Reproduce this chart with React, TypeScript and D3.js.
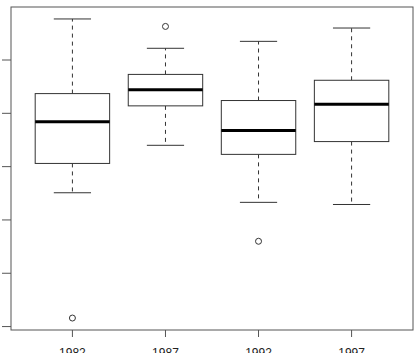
import React from 'react';
import * as d3 from 'd3';

const years = ['1982', '1987', '1992', '1997'];
const lowerWhisker = [2.51, 3.4, 2.33, 2.29];
const q1 = [3.06, 4.14, 3.23, 3.47];
const median = [3.84, 4.44, 3.68, 4.17];
const q3 = [4.37, 4.73, 4.24, 4.62];
const upperWhisker = [5.77, 5.22, 5.35, 5.6];
const outliers = [[0.16], [5.63], [1.6], []];
const yTicks = [0, 1, 2, 3, 4, 5];

const width = 418;
const height = 353;
const plot = { left: 11, top: 7, right: 413, bottom: 330 };

export default function App() {
  // R style: 4% padding around the data range
  const lo = d3.min(outliers.flat().concat(lowerWhisker)) as number;
  const hi = d3.max(outliers.flat().concat(upperWhisker)) as number;
  const pad = (hi - lo) * 0.04;
  const y = d3.scaleLinear().domain([lo - pad, hi + pad]).range([plot.bottom, plot.top]);
  const x = d3.scaleLinear().domain([0.34, 4.66]).range([plot.left, plot.right]);
  const boxW = x(0.8) - x(0);
  const capW = boxW / 2;
  const stroke = '#333';

  return (
    <svg
      width={width}
      height={height}
      style={{ position: 'absolute', left: 0, top: 0, background: '#fff' }}
      fontFamily="'Liberation Sans', Arial, sans-serif"
    >
      <rect
        x={plot.left}
        y={plot.top}
        width={plot.right - plot.left}
        height={plot.bottom - plot.top}
        fill="none"
        stroke="#555"
      />
      {yTicks.map(t => (
        <line key={t} x1={2} x2={plot.left} y1={y(t)} y2={y(t)} stroke="#555" />
      ))}
      {years.map((yr, i) => {
        const cx = x(i + 1);
        return (
          <g key={yr}>
            <line x1={cx} x2={cx} y1={plot.bottom} y2={plot.bottom + 7} stroke="#555" />
            <text x={cx} y={357} textAnchor="middle" fontSize={12} fill="#222">
              {yr}
            </text>
            <line x1={cx} x2={cx} y1={y(q3[i])} y2={y(upperWhisker[i])} stroke={stroke} strokeDasharray="4,4" />
            <line x1={cx} x2={cx} y1={y(q1[i])} y2={y(lowerWhisker[i])} stroke={stroke} strokeDasharray="4,4" />
            <line x1={cx - capW / 2} x2={cx + capW / 2} y1={y(upperWhisker[i])} y2={y(upperWhisker[i])} stroke={stroke} />
            <line x1={cx - capW / 2} x2={cx + capW / 2} y1={y(lowerWhisker[i])} y2={y(lowerWhisker[i])} stroke={stroke} />
            <rect
              x={cx - boxW / 2}
              y={y(q3[i])}
              width={boxW}
              height={y(q1[i]) - y(q3[i])}
              fill="#fff"
              stroke={stroke}
            />
            <line x1={cx - boxW / 2} x2={cx + boxW / 2} y1={y(median[i])} y2={y(median[i])} stroke="#000" strokeWidth={3} />
            {outliers[i].map((o, j) => (
              <circle key={j} cx={cx} cy={y(o)} r={3} fill="none" stroke={stroke} />
            ))}
          </g>
        );
      })}
    </svg>
  );
}
